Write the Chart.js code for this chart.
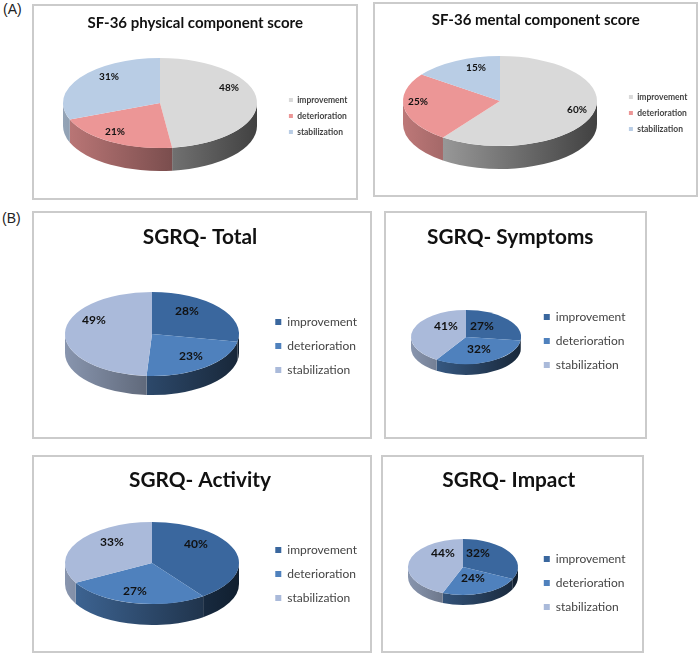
<!DOCTYPE html>
<html>
<head>
<meta charset="utf-8">
<script src="https://cdn.jsdelivr.net/npm/chart.js@4"></script>
<style>
  html, body { margin: 0; background: #fff; }
  body { position: relative; width: 700px; height: 659px; overflow: hidden; }
  canvas { position: absolute; outline: 2px solid #cbcbcb; outline-offset: -1px; }
  .tag { position: absolute; font: 14px "Liberation Sans"; color: #222; }
</style>
</head>
<body>
<div class="tag" style="left:3px;top:1px">(A)</div>
<div class="tag" style="left:2px;top:210px">(B)</div>
<canvas id="physical"></canvas>
<canvas id="mental"></canvas>
<canvas id="total"></canvas>
<canvas id="symptoms"></canvas>
<canvas id="activity"></canvas>
<canvas id="impact"></canvas>
<script>
// --- Data ---
const categories = ['improvement', 'deterioration', 'stabilization'];
const physicalValues = [48, 21, 31];
const mentalValues = [60, 25, 15];
const totalValues = [28, 23, 49];
const symptomsValues = [27, 32, 41];
const activityValues = [40, 27, 33];
const impactValues = [32, 24, 44];

const sfColors = [[217, 217, 217], [236, 150, 150], [185, 205, 229]];
const sgrqColors = [[58, 103, 158], [79, 129, 189], [170, 186, 218]];

const sfStyle = { colors: sfColors, titleSize: 15, titleWeight: 'bold', legendSize: 8.5, legendWeight: 'bold', box: 4, legendGap: 7.5, labelSize: 10, labelWeight: 'bold' };
const sgrqStyle = { colors: sgrqColors, titleSize: 20.8, titleWeight: 'bold', legendSize: 12, legendWeight: 'normal', box: 6, legendGap: 12, labelSize: 12, labelWeight: 'bold' };

// box = frame on the page, pie = centre x/y and radii and depth, labels = offsets from the centre
const panels = [
  { id: 'physical', title: 'SF-36 physical component score', values: physicalValues, style: sfStyle,
    box: [33, 5, 324, 194], titleY: 23, pie: [160, 103, 97, 45, 23], legendY: 116, legendRight: -0.5,
    labels: [[69, -15], [-45, 29], [-51, -26]] },
  { id: 'mental', title: 'SF-36 mental component score', values: mentalValues, style: sfStyle,
    box: [374, 3, 323, 193], titleY: 20, pie: [500, 101, 97, 45, 23], legendY: 113, legendRight: -0.5,
    labels: [[77, 9], [-82, 1], [-24, -33]] },
  { id: 'total', title: 'SGRQ- Total', values: totalValues, style: sgrqStyle,
    box: [33, 212, 338, 226], titleY: 237, pie: [152, 334, 87, 42, 19], legendY: 346, legendRight: 4,
    labels: [[35, -23], [39, 22], [-58, -14]] },
  { id: 'symptoms', title: 'SGRQ- Symptoms', values: symptomsValues, style: sgrqStyle,
    box: [385, 212, 261, 226], titleY: 237, pie: [466, 337, 55, 27, 11], legendY: 341, legendRight: 10.5,
    labels: [[16, -11], [13, 12], [-20, -11]] },
  { id: 'activity', title: 'SGRQ- Activity', values: activityValues, style: sgrqStyle,
    box: [33, 456, 338, 196], titleY: 480, pie: [152, 563, 87, 41, 21], legendY: 574, legendRight: 4,
    labels: [[44, -19], [-17, 28], [-40, -21]] },
  { id: 'impact', title: 'SGRQ- Impact', values: impactValues, style: sgrqStyle,
    box: [382, 456, 261, 196], titleY: 480, pie: [463, 567, 55, 28, 10], legendY: 583, legendRight: 7.5,
    labels: [[15, -14], [10, 11], [-20, -14]] },
];

const rgb = (c, f) => `rgb(${c.map(v => Math.round(v * f)).join(',')})`;

// flat pie -> tilted pie with a rim; the library still draws the slices
const tiltPlugin = {
  id: 'tilt',
  beforeDatasetsDraw(chart, args, opts) {
    const { ctx } = chart;
    const { cx, cy, rx, ry, depth, colors } = opts;
    const arcs = chart.getDatasetMeta(0).data;
    arcs.forEach((arc, i) => {
      const TAU = Math.PI * 2;
      let a = arc.startAngle, b = arc.endAngle;
      // the visible rim is the canvas angle range 0..PI, also try one turn on
      [0, TAU, -TAU].forEach(shift => {
        const s = Math.max(a + shift, 0), e = Math.min(b + shift, Math.PI);
        if (e <= s) return;
        const grad = ctx.createLinearGradient(cx - rx, 0, cx + rx, 0);
        grad.addColorStop(0, rgb(colors[i], 0.8));
        grad.addColorStop(1, rgb(colors[i], 0.3));
        ctx.beginPath();
        ctx.ellipse(cx, cy, rx, ry, 0, s, e);
        ctx.ellipse(cx, cy + depth, rx, ry, 0, e, s, true);
        ctx.closePath();
        ctx.fillStyle = grad;
        ctx.fill();
      });
    });
    const first = arcs[0];
    ctx.save();
    ctx.translate(cx, cy);
    ctx.scale(1, ry / rx);
    ctx.translate(-first.x, -first.y);
  },
  afterDatasetsDraw(chart, args, opts) {
    const { ctx } = chart;
    ctx.restore();
    ctx.save();
    ctx.font = `${opts.labelWeight} ${opts.labelSize}px Lato`;
    ctx.fillStyle = '#111';
    ctx.textAlign = 'center';
    ctx.textBaseline = 'middle';
    chart.data.datasets[0].data.forEach((v, i) => {
      ctx.fillText(v + '%', opts.cx + opts.labels[i][0], opts.cy + opts.labels[i][1]);
    });
    ctx.restore();
  }
};

panels.forEach(p => {
  const [left, top, w, h] = p.box;
  const [px, py, rx, ry, depth] = p.pie;
  const s = p.style;
  const cv = document.getElementById(p.id);
  cv.width = w;
  cv.height = h;
  cv.style.left = left + 'px';
  cv.style.top = top + 'px';
  const titleLine = s.titleSize * 1.2;
  const titleTop = p.titleY - top - titleLine / 2;
  // legend sits at the bottom of the chart area, so that edge sets its height
  const row = s.legendSize + s.legendGap;
  const legendBottom = p.legendY - top + 1.5 * row + s.legendGap / 2;
  new Chart(cv.getContext('2d'), {
    type: 'pie',
    data: {
      labels: categories,
      datasets: [{ data: p.values, backgroundColor: s.colors.map(c => rgb(c, 1)), borderWidth: 0, radius: rx, clip: false }]
    },
    plugins: [tiltPlugin],
    options: {
      responsive: false,
      animation: false,
      layout: { padding: { top: 0, left: 0, right: p.legendRight, bottom: h - legendBottom } },
      plugins: {
        title: {
          display: true,
          text: p.title,
          color: '#111',
          font: { family: 'Lato', size: s.titleSize, weight: s.titleWeight },
          padding: { top: titleTop, bottom: 0 }
        },
        legend: {
          position: 'right',
          align: 'end',
          fullSize: false,
          labels: {
            boxWidth: s.box,
            boxHeight: s.box,
            padding: s.legendGap,
            color: '#444',
            font: { family: 'Lato', size: s.legendSize, weight: s.legendWeight }
          }
        },
        tooltip: { enabled: false },
        tilt: { cx: px - left, cy: py - top, rx, ry, depth, colors: s.colors, labels: p.labels, labelSize: s.labelSize, labelWeight: s.labelWeight }
      }
    }
  });
});
</script>
</body>
</html>
